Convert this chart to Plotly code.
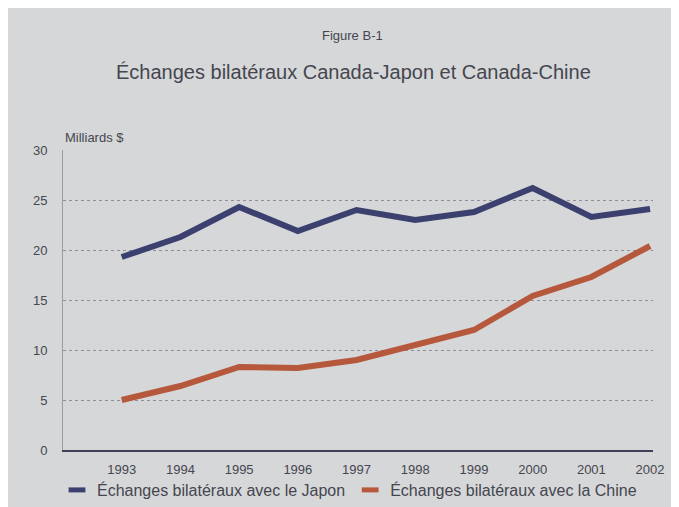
import plotly.graph_objects as go

# Données (milliards $)
annees = [1993, 1994, 1995, 1996, 1997, 1998, 1999, 2000, 2001, 2002]
japon = [19.3, 21.3, 24.3, 21.9, 24.0, 23.0, 23.8, 26.2, 23.3, 24.1]
chine = [5.0, 6.4, 8.3, 8.2, 9.0, 10.5, 12.0, 15.4, 17.3, 20.4]

nom_japon = "Échanges bilatéraux avec le Japon"
nom_chine = "Échanges bilatéraux avec la Chine"
couleur_japon = "#3c406e"
couleur_chine = "#b6583c"
texte = "#45464f"

fig = go.Figure()

# Lignes
fig.add_trace(go.Scatter(x=annees, y=japon, mode="lines", showlegend=False,
                         line=dict(color=couleur_japon, width=6)))
fig.add_trace(go.Scatter(x=annees, y=chine, mode="lines", showlegend=False,
                         line=dict(color=couleur_chine, width=6)))

# Entrées de légende (petits rectangles)
for nom, couleur in [(nom_japon, couleur_japon), (nom_chine, couleur_chine)]:
    fig.add_trace(go.Scatter(x=[None], y=[None], mode="markers", name=nom,
                             marker=dict(symbol="line-ew", size=12,
                                         line=dict(color=couleur, width=5))))

# position en pixels de la photo -> coordonnées "paper"
def px(x):
    return (x - 63) / 590

def py(y):
    return (450 - y) / 300

# Fond gris de la feuille, bordure brune en haut et à gauche
fig.add_shape(type="rect", xref="paper", yref="paper", layer="below",
              x0=px(6), x1=px(700), y0=py(530), y1=py(8),
              fillcolor="#d6d7d9", line=dict(width=0))

fig.add_annotation(text="Figure B-1", xref="paper", yref="paper",
                   x=px(352), y=py(35), yanchor="middle", showarrow=False,
                   font=dict(size=13, color=texte))
fig.add_annotation(text="Échanges bilatéraux Canada-Japon et Canada-Chine",
                   xref="paper", yref="paper",
                   x=px(353), y=py(72), yanchor="middle", showarrow=False,
                   font=dict(size=20, color=texte))
fig.add_annotation(text="Milliards $", xref="paper", yref="paper",
                   x=px(63), y=py(137), xanchor="left", yanchor="middle",
                   showarrow=False, font=dict(size=13, color=texte))

fig.update_layout(
    width=679, height=507,
    margin=dict(l=55, r=34, t=142, b=65, autoexpand=False),
    paper_bgcolor="#b9a27c",
    plot_bgcolor="#d6d7d9",
    font=dict(family="Liberation Sans, Arial, sans-serif", color=texte),
    legend=dict(orientation="h", x=px(57), y=py(490), xanchor="left",
                yanchor="middle", bgcolor="rgba(0,0,0,0)",
                font=dict(size=16, color=texte)),
)

fig.update_xaxes(range=[1992, 2002.05], tickmode="array", tickvals=annees,
                 showgrid=False, showline=True, linecolor="#3e3f58", linewidth=2,
                 ticks="", tickfont=dict(size=13), zeroline=False,
                 ticklabelstandoff=6)
fig.update_yaxes(range=[0, 30], dtick=5, showgrid=True, gridcolor="#8e8f98",
                 griddash="dot", gridwidth=1, showline=True, linecolor="#9a9ba3",
                 linewidth=1, ticks="", tickfont=dict(size=13), zeroline=False,
                 ticklabelstandoff=12)

fig.write_html("out.html")
